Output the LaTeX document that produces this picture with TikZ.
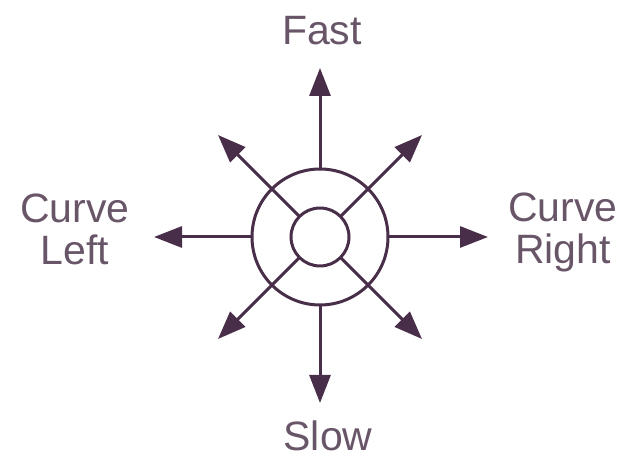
\documentclass[tikz,border=0pt]{standalone}
\usepackage{fontspec}
\setmainfont{Liberation Sans}
\usepackage{xcolor}
\usetikzlibrary{arrows.meta}
\definecolor{dialline}{RGB}{72,46,72}
\definecolor{dialtext}{RGB}{104,86,104}

\begin{document}
\begin{tikzpicture}[
    x=1pt, y=1pt,
    >={Triangle[length=28pt, width=21pt]},
    ring/.style={circle, draw=dialline, line width=3pt, inner sep=0pt, outer sep=0pt},
    dirlabel/.style={font=\fontsize{41}{42.5}\selectfont, text=dialtext, inner sep=0pt},
    arrow/.style={->, line width=3pt, draw=dialline}
    ]
    \useasboundingbox (0,0) rectangle (625,460);

    \node[ring, minimum size=136pt] (outer) at (320,223) {};
    \node[ring, minimum size=58pt] (inner) at (320,223) {};

    % free ends of the eight arrows
    \coordinate (fastend) at (320,392);
    \coordinate (slowend) at (320,57);
    \coordinate (leftend) at (154,223);
    \coordinate (rightend) at (488,223);
    \coordinate (neend) at (422,325);
    \coordinate (nwend) at (218,325);
    \coordinate (swend) at (218,121);
    \coordinate (seend) at (422,121);

    \node[dirlabel, anchor=base] (fast) at (322,415) {Fast};
    \node[dirlabel, anchor=base] (slow) at (328,9) {Slow};
    \node[dirlabel, align=center, anchor=base] (left) at (75,195) {Curve\\Left};
    \node[dirlabel, align=center, anchor=base] (right) at (563,196) {Curve\\Right};

    \draw[arrow] (outer.north) -- (fastend);
    \draw[arrow] (outer.south) -- (slowend);
    \draw[arrow] (outer.west) -- (leftend);
    \draw[arrow] (outer.east) -- (rightend);

    % diagonals start on the inner ring and cross the outer one
    \draw[arrow] (inner.45) -- (neend);
    \draw[arrow] (inner.135) -- (nwend);
    \draw[arrow] (inner.225) -- (swend);
    \draw[arrow] (inner.315) -- (seend);
\end{tikzpicture}
\end{document}
